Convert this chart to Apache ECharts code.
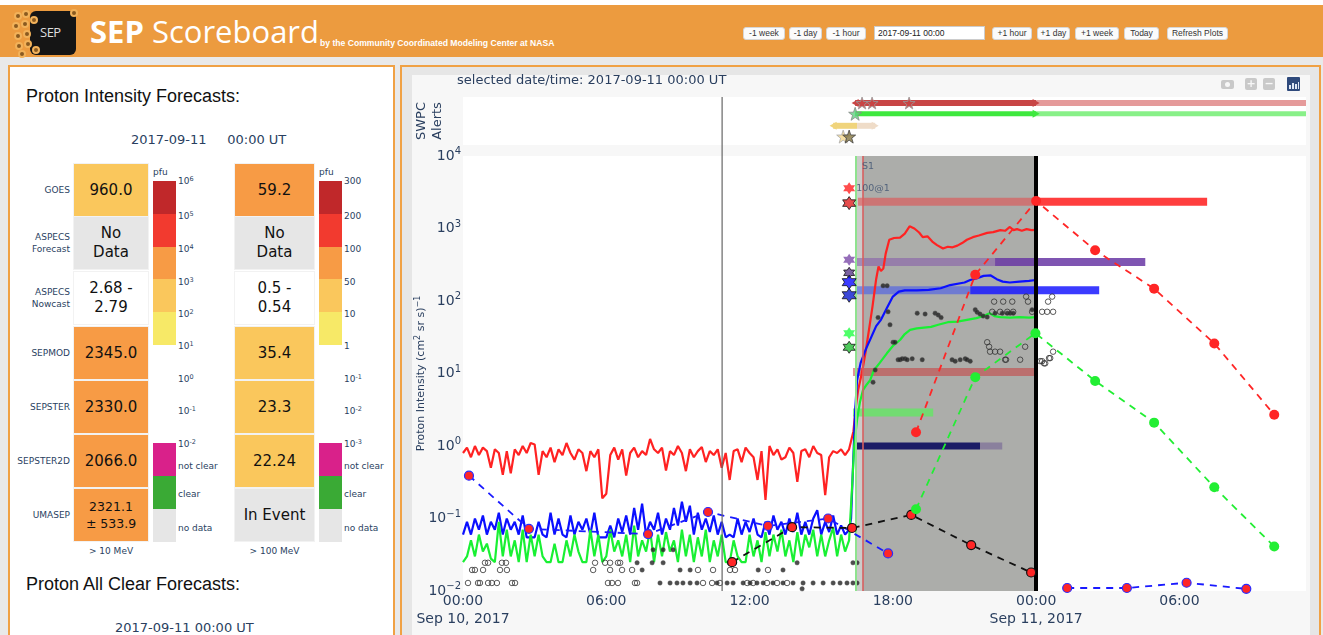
<!DOCTYPE html>
<html>
<head>
<meta charset="utf-8">
<script src="https://cdn.jsdelivr.net/npm/echarts@6.0.0/dist/echarts.min.js"></script>
<style>
*{box-sizing:border-box}
html,body{margin:0;padding:0}
body{width:1323px;height:635px;overflow:hidden;position:relative;background:#e9e9e9;font-family:"DejaVu Sans",sans-serif;}
.abs{position:absolute}
#topstrip{left:0;top:0;width:1323px;height:5px;background:#fff}
#header{left:0;top:5px;width:1323px;height:52px;background:#ec9b3f}
#title{left:90px;top:12px;color:#fff;font-family:"Open Sans",sans-serif;font-size:31px;line-height:38px;white-space:nowrap}
#title b{font-weight:700}
#byline{left:320px;top:38px;color:#fff;font-family:"Liberation Sans",Arial,sans-serif;font-weight:bold;font-size:8.6px;white-space:nowrap}
.btn{top:27px;height:13px;background:#fbfbfb;border:1px solid #d6d6d6;border-radius:3px;font-family:"Liberation Sans",Arial,sans-serif;font-size:8.5px;line-height:11px;text-align:center;color:#333;white-space:nowrap}
#leftpanel{left:8px;top:65px;width:387px;height:600px;border:2px solid #f0a144;background:#fff}
#rightpanel{left:400px;top:65px;width:921px;height:600px;border:2px solid #f0a144;background:#e6e6e6}
#paper{left:412px;top:75px;width:898px;height:560px;background:#f7f7f7}
#chart{left:400px;top:65px;width:923px;height:570px}
.h2{font-family:"Liberation Sans",Arial,sans-serif;font-size:18px;color:#111;white-space:nowrap}
.navy{color:#2a3f5f}
.rowlab{font-size:9px;line-height:12px;color:#2a3f5f;text-align:right;width:64px;left:6px}
.cell{display:flex;align-items:center;justify-content:center;text-align:center;font-size:15px;line-height:19px;color:#111;border:1px solid #f2f2f2}
.cbl{font-size:9px;color:#2a3f5f;white-space:nowrap;line-height:10px}
.cbl sup{font-size:6.5px;vertical-align:top;position:relative;top:-2px}
.icon{background:#c9c9c9;border-radius:2px}
</style>
</head>
<body>
<div id="topstrip" class="abs"></div>
<div id="header" class="abs"></div>
<div id="logo" class="abs" style="left:10px;top:8px;width:68px;height:48px;"></div>
<div id="title" class="abs"><b>SEP</b> Scoreboard</div>
<div id="byline" class="abs">by the Community Coordinated Modeling Center at NASA</div>
<div id="buttons"></div>
<div id="leftpanel" class="abs"></div>
<div id="rightpanel" class="abs"></div>
<div id="paper" class="abs"></div>
<div id="left"></div>
<div id="chart" class="abs"></div>
<div id="modebar"></div>
<script>
// ===================== DATA =====================
// time axis: hours since 2017-09-10 00:00 UT
const xTickDays = ['Sep 10, 2017', 'Sep 11, 2017'];
const selectedTime = '2017-09-11 00:00 UT';

// GOES integral proton flux, quiet period, 10-min cadence starting 00:00
const quietStepHours = 1 / 6;
const gt10Quiet = [
 0.8,0.95,0.7,1.0,0.75,0.95,0.85,0.5,0.9,0.8,
 0.4,0.85,0.42,0.9,0.75,1.0,0.8,1.1,1.05,0.4,
 0.85,0.7,0.95,0.6,0.9,0.75,1.1,0.8,0.65,0.9,
 0.8,0.45,0.85,0.7,0.9,0.19,0.22,0.75,0.95,0.65,
 0.9,0.39,0.8,0.95,0.7,0.85,0.75,1.25,0.9,0.8,
 0.95,0.46,0.85,0.75,1.0,0.8,0.45,0.9,0.7,0.85,
 0.97,0.6,0.85,0.75,0.9,0.5,0.8,0.34,0.85,0.9,
 0.6,0.95,0.8,0.7,0.34,0.85,0.18,1.0,0.75,0.9,
 0.65,0.7,0.95,0.8,0.32,0.85,0.9,0.7,1.0,0.8,
 0.75,0.21,0.7,0.85,0.8,0.9,0.75,0.9];
const gt50Quiet = [
 0.06,0.09,0.06,0.1,0.07,0.11,0.06,0.09,0.07,0.12,
 0.06,0.1,0.07,0.09,0.06,0.11,0.055,0.055,0.055,0.09,
 0.06,0.055,0.12,0.06,0.1,0.06,0.055,0.11,0.06,0.09,
 0.07,0.1,0.06,0.12,0.055,0.055,0.055,0.08,0.055,0.1,
 0.065,0.11,0.06,0.14,0.07,0.16,0.06,0.09,0.07,0.12,
 0.06,0.1,0.07,0.14,0.08,0.17,0.09,0.15,0.06,0.12,
 0.07,0.1,0.065,0.11,0.06,0.09,0.055,0.06,0.055,0.1,
 0.06,0.09,0.065,0.1,0.06,0.055,0.09,0.06,0.11,0.07,
 0.09,0.06,0.1,0.065,0.12,0.06,0.09,0.06,0.1,0.13,
 0.06,0.09,0.065,0.11,0.06,0.08,0.06,0.07];
const gt100Quiet = [
 0.025,0.03,0.05,0.03,0.06,0.035,0.045,0.028,0.025,0.09,
 0.03,0.07,0.03,0.05,0.025,0.07,0.025,0.06,0.03,0.06,
 0.03,0.025,0.025,0.045,0.025,0.025,0.05,0.03,0.06,0.035,
 0.025,0.025,0.07,0.03,0.06,0.025,0.03,0.07,0.035,0.05,
 0.03,0.06,0.025,0.08,0.03,0.05,0.035,0.07,0.025,0.06,
 0.03,0.065,0.035,0.05,0.025,0.07,0.03,0.06,0.025,0.055,
 0.03,0.07,0.025,0.05,0.03,0.06,0.025,0.025,0.05,0.03,
 0.025,0.025,0.06,0.03,0.05,0.025,0.065,0.03,0.06,0.035,
 0.07,0.03,0.05,0.025,0.065,0.03,0.06,0.04,0.07,0.03,
 0.06,0.03,0.05,0.075,0.03,0.06,0.035,0.05];
// event onset and rise [hour, pfu]
const gt10Event = [[16.25,0.95],[16.35,1.6],[16.45,3.5],[16.55,6],[16.7,10],[16.85,19],[17.0,40],[17.15,85],[17.3,200],[17.4,300],[17.5,260],[17.6,280],[17.7,450],[17.85,700],[18.05,740],[18.3,750],[18.5,850],[18.7,1070],[18.9,1000],[19.1,880],[19.25,760],[19.45,780],[19.65,660],[19.85,590],[20.1,530],[20.3,560],[20.5,550],[20.7,580],[20.9,630],[21.1,700],[21.35,760],[21.6,800],[21.95,870],[22.2,890],[22.5,950],[22.7,930],[22.9,1050],[23.05,950],[23.2,980],[23.4,930],[23.6,980],[23.8,950],[24.0,960]];
const gt50Event = [[16.25,0.1],[16.33,0.5],[16.42,3],[16.5,8],[16.65,14],[16.88,22],[17.1,32],[17.3,45],[17.5,55],[17.75,80],[18.0,115],[18.25,135],[18.5,140],[19.0,140],[19.5,142],[20.0,150],[20.4,166],[21.0,180],[21.24,195],[21.5,205],[21.8,222],[22.1,225],[22.35,200],[22.6,185],[22.9,180],[23.3,185],[23.7,190],[24.0,195]];
const gt100Event = [[16.25,0.05],[16.3,0.3],[16.38,1.0],[16.5,2.3],[16.62,4],[16.75,5.9],[16.9,7],[17.05,8.1],[17.2,11],[17.45,14],[17.75,19],[18.0,24],[18.3,29],[18.5,35],[18.72,40],[19.0,42],[19.3,43],[19.6,44],[19.9,47],[20.3,51],[20.7,52],[21.1,55],[21.5,58],[21.8,62],[22.05,68],[22.25,62],[22.5,60],[22.9,59],[23.3,60],[23.7,59],[24.0,60]];

// model forecast time series [hour, pfu] (null = below range)
const umasepGt10Fc = [[18.97,1.55],[21.45,230],[24.0,2400],[26.47,500],[28.94,148],[31.46,26],[33.97,2.7]];
const umasepGt100Fc = [[18.97,0.134],[21.45,8.9],[23.97,36],[26.47,7.9],[28.94,2.1],[31.46,0.27],[33.97,0.041]];
const modelBlueFc = [[0.25,0.39],[2.76,0.072],[7.75,0.061],[10.26,0.123],[12.77,0.079],[15.29,0.1],[17.8,0.033],[20.3,null],[22.8,null],[25.3,0.011],[27.8,0.011],[30.3,0.013],[32.8,0.0107]];
const modelBlackFc = [[11.27,0.025],[13.78,0.076],[16.29,0.074],[18.77,0.112],[21.28,0.043],[23.79,0.018]];

// peak-flux forecast bars: [start hour, mid hour, end hour, pfu]
const barSepmod10 = [16.54, 24.0, 31.16, 2345];
const barPurple = [16.46, 22.28, 28.57, 345];
const barBlue = [16.46, 21.24, 26.64, 141];
const barDarkRed = [16.33, 24.0, 24.0, 10.5];
const barGreen = [16.33, 19.69, 19.69, 2.9];
const barNavy = [16.33, 21.65, 22.58, 1.0];

// threshold-crossing stars at forecast issue time
const starHour = 16.17;
const starValues = [3600, 2240, 370, 245, 182, 120, 36, 23];

// instrument / model dots
const filledDots = [[7.96,0.037],[8.38,0.037],[8.8,0.037],[7.29,0.0245],[7.92,0.0245],[8.38,0.0245],[13.99,0.0245],[16.33,0.0245],[16.5,0.0245],[7.5,0.0195],[9.09,0.0195],[9.51,0.0195],[12.36,0.0195],[13.4,0.0195],
 [8.25,0.0129],[8.67,0.0129],[8.96,0.0129],[9.21,0.0129],[9.51,0.0129],[9.8,0.0129],[10.64,0.0129],[11.06,0.0129],[11.31,0.0129],[11.73,0.0129],[12.02,0.0129],[12.31,0.0129],[12.57,0.0129],[12.98,0.0129],[13.4,0.0129],[13.82,0.0129],[14.24,0.0129],[14.66,0.0129],[15.08,0.0129],[15.5,0.0129],[15.79,0.0129],[16.08,0.0129],[16.33,0.0129],[16.5,0.0129],[14.2,0.0107],
 [17.17,7.6],[17.26,11.2],[18.01,27],[18.09,27],[17.88,47],[17.38,59],[17.8,71],[17.59,162],[17.76,162],
 [18.22,15.5],[18.3,15.5],[18.39,16],[18.51,16],[18.6,15.5],[18.81,16],[19.23,15.5],[20.48,15.5],[20.61,14.8],[20.82,15.5],[21.03,16],[21.11,15.5],[21.24,14.8],
 [19.02,68],[19.35,66],[19.77,68],[19.9,64],[20.02,59],[21.45,76],[21.53,70],[21.65,66],[21.78,62],[21.95,60],[22.28,68],[22.58,68],[22.79,68],[22.91,68],[23.04,68],[23.83,76]];
const openDots = [[0.92,0.0245],[1.05,0.0245],[1.63,0.0245],[1.8,0.0245],[5.53,0.0245],[5.95,0.0245],[6.16,0.0245],[6.49,0.0245],[6.58,0.0245],[11.18,0.0245],[11.31,0.0245],
 [0.38,0.0195],[0.5,0.0195],[0.84,0.0195],[1.55,0.0195],[1.84,0.0195],[5.45,0.0195],[6.16,0.0195],[6.66,0.0195],[7.08,0.0195],[9.84,0.0195],[10.47,0.0195],[11.18,0.0195],[11.39,0.0195],[12.77,0.0195],
 [0.21,0.0129],[0.63,0.0129],[0.71,0.0129],[1.05,0.0129],[1.21,0.0129],[1.42,0.0129],[2.05,0.0129],[2.18,0.0129],[6.07,0.0129],[6.24,0.0129],[6.49,0.0129],[7.2,0.0129],[7.29,0.0129],[10.05,0.0129],[10.43,0.0129],[10.76,0.0129],[11.9,0.0129],[12.15,0.0129],[12.73,0.0129],[13.15,0.0129],[13.57,0.0129],
 [22.24,98],[22.62,98],[23.0,98],[23.66,98],[24.5,98],[23.58,115],[24.67,115],[22.16,71],[22.49,71],[22.79,71],[23.04,71],[23.83,71],[24.25,71],[24.46,71],[24.71,71],[21.95,27],[22.03,23.4],[23.54,23.4],[22.07,20],[22.28,20],[22.49,20],[24.71,20],[22.7,15.5],[22.74,15.5],[23.33,15.5],[24.17,14.8],[24.25,14.8],[24.33,13.8],[24.38,13.8],[24.54,16.3],[24.59,16.3]];

// event markers (hours)
const selectedLineHour = 10.85;
const eventStartHour = 16.46;
const thresholdHour = 16.75;
const forecastTimeHour = 24.0;
const s1Label = [16.96, 7240];

// SWPC alerts: [start, mid, end] hours
const alertProton10 = [16.42, 24.0, 35.3];
const alertProton10Stars = [16.71, 17.13, 18.68];
const alertProton100 = [16.42, 24.0, 35.3];
const alertProton100Stars = [16.42];
const alertWarning = [15.5, 16.5, 17.26];
const alertSummaryStars = [15.92, 16.17];

// left panel table
const rowLabels = ['GOES','ASPECS<br>Forecast','ASPECS<br>Nowcast','SEPMOD','SEPSTER','SEPSTER2D','UMASEP'];
const values10 = ['960.0','No<br>Data','2.68 -<br>2.79','2345.0','2330.0','2066.0','2321.1<br>± 533.9'];
const values100 = ['59.2','No<br>Data','0.5 -<br>0.54','35.4','23.3','22.24','In Event'];
const level10 = ['lo','nd','wh','mid','mid','mid','mid'];
const level100 = ['mid','nd','wh','lo','lo','lo','nd'];
const cbLabels10 = ['10<sup>6</sup>','10<sup>5</sup>','10<sup>4</sup>','10<sup>3</sup>','10<sup>2</sup>','10<sup>1</sup>','10<sup>0</sup>','10<sup>-1</sup>','10<sup>-2</sup>'];
const cbLabels100 = ['300','200','100','50','10','1','10<sup>-1</sup>','10<sup>-2</sup>','10<sup>-3</sup>'];
const cbCats = ['not clear','clear','no data'];
const energyLabels = ['> 10 MeV','> 100 MeV'];
const headerButtons = [['-1 week',743,42],['-1 day',789,33],['-1 hour',826,40],['+1 hour',992,40],['+1 day',1037,33],['+1 week',1075,44],['Today',1124,35],['Refresh Plots',1167,61]];

// ===================== HTML PARTS =====================
function el(parent, cls, style, html){const d=document.createElement('div');d.className='abs '+(cls||'');d.style.cssText=style;if(html!==undefined)d.innerHTML=html;parent.appendChild(d);return d;}
// logo
const logo=document.getElementById('logo');
el(logo,'', 'left:20px;top:3px;width:46px;height:44px;background:#151515;border-radius:6px;');
el(logo,'', 'left:30px;top:15px;color:#ddd;font-family:"Open Sans";font-size:13px;letter-spacing:-0.5px;','SEP');
[[4,4],[12,2],[2,14],[11,12],[20,8],[4,24],[13,22],[5,34],[14,32],[22,38],[8,42],[60,1]].forEach(p=>el(logo,'','left:'+p[0]+'px;top:'+p[1]+'px;width:8px;height:8px;border-radius:50%;border:2px solid #f2b25a;background:#8a5a20;'));
// buttons
const bdiv=document.getElementById('buttons');
headerButtons.forEach(b=>el(bdiv,'btn','left:'+b[1]+'px;width:'+b[2]+'px;',b[0]));
el(bdiv,'', 'left:874px;top:26px;width:111px;height:14px;background:#fff;border:1px solid #ccc;font-family:"Liberation Sans",Arial,sans-serif;font-size:8.5px;line-height:12px;padding-left:3px;color:#222;','2017-09-11 00:00');
// left panel
const L=document.getElementById('left');
el(L,'h2','left:26px;top:86px;','Proton Intensity Forecasts:');
el(L,'navy','left:131px;top:132px;font-size:13px;white-space:nowrap;','2017-09-11&nbsp;&nbsp;&nbsp;&nbsp;&nbsp;00:00 UT');
const rowTops=[163,216,271,326,380,434,488], rowH=54;
const fills={hi:'#c0282a',red:'#f23a2f',mid:'#f79b45',lo:'#fac75c',yel:'#f7e967',nd:'#e6e6e6',wh:'#ffffff'};
rowLabels.forEach((r,i)=>{
  const lines=r.split('<br>').length;
  el(L,'rowlab','top:'+(rowTops[i]+rowH/2-lines*6)+'px;',r);
  const f1=values10[i].indexOf('±')>=0?'font-size:12.5px;line-height:17px;':'';
  el(L,'cell','left:73px;top:'+rowTops[i]+'px;width:76px;height:'+rowH+'px;background:'+fills[level10[i]]+';'+f1,values10[i]);
  el(L,'cell','left:234px;top:'+rowTops[i]+'px;width:81px;height:'+rowH+'px;background:'+fills[level100[i]]+';',values100[i]);
});
const bandCols=['hi','red','mid','lo','yel'];
const catCols=['#d9218a','#3aaa35','#e6e6e6'];
[[153,cbLabels10],[319,cbLabels100]].forEach(([x,labs])=>{
  el(L,'cbl','left:'+x+'px;top:167px;','pfu');
  bandCols.forEach((c,i)=>el(L,'','left:'+x+'px;top:'+(181+i*32.8)+'px;width:23px;height:33px;background:'+fills[c]+';'));
  const ly=[181,216,249,282,314,346,379,411,444];
  labs.forEach((t,i)=>el(L,'cbl','left:'+(x+25)+'px;top:'+(ly[i]-5)+'px;',t));
  catCols.forEach((c,i)=>el(L,'','left:'+x+'px;top:'+(443+i*33)+'px;width:23px;height:33px;background:'+c+';'));
  [466,494,528].forEach((y,i)=>el(L,'cbl','left:'+(x+25)+'px;top:'+(y-5)+'px;',cbCats[i]));
});
el(L,'cbl','left:73px;top:546px;width:76px;text-align:center;',energyLabels[0]);
el(L,'cbl','left:234px;top:546px;width:81px;text-align:center;',energyLabels[1]);
el(L,'h2','left:26px;top:574px;','Proton All Clear Forecasts:');
el(L,'navy','left:115px;top:620px;font-size:13px;white-space:nowrap;','2017-09-11 00:00 UT');
// modebar
const M=document.getElementById('modebar');
el(M,'icon','left:1221px;top:80px;width:13px;height:9px;border-radius:2px;');
el(M,'','left:1225px;top:82px;width:5px;height:5px;border-radius:50%;background:#f7f7f7;');
el(M,'icon','left:1245px;top:78px;width:12px;height:12px;color:#f7f7f7;font-size:11px;line-height:12px;text-align:center;font-weight:bold;','+');
el(M,'icon','left:1263px;top:78px;width:12px;height:12px;color:#f7f7f7;font-size:11px;line-height:11px;text-align:center;font-weight:bold;','−');
el(M,'','left:1287px;top:77px;width:13px;height:14px;background:#2f4a7c;border-radius:1px;');
[[1289,85,2,4],[1292,83,2,6],[1295,84,2,5],[1298,82,1,7]].forEach(b=>el(M,'','left:'+b[0]+'px;top:'+b[1]+'px;width:'+b[2]+'px;height:'+b[3]+'px;background:#dde6f5;'));

// ===================== CHART =====================
const FONT='DejaVu Sans', TXT='#2a3f5f';
const HEX='path://M0,-10L2.887,-5L8.66,-5L5.774,0L8.66,5L2.887,5L0,10L-2.887,5L-8.66,5L-5.774,0L-8.66,-5L-2.887,-5Z';
const STAR5='path://M0,-10L2.35,-3.24L9.51,-3.09L3.8,1.24L5.88,8.09L0,4L-5.88,8.09L-3.8,1.24L-9.51,-3.09L-2.35,-3.24Z';
const XMAX=35.3;
const chart=echarts.init(document.getElementById('chart'),null,{renderer:'canvas'});
const quietSeries=arr=>arr.map((v,i)=>[i*quietStepHours,v]);
const clean=arr=>arr.map(p=>[p[0],p[1]===null?'-':p[1]]);
const M1={xAxisIndex:1,yAxisIndex:1};
const M0={xAxisIndex:0,yAxisIndex:0};
const base={animation:false,silent:true,emphasis:{disabled:true}};
function bar(name,t0,t1,v,color,width,z){return Object.assign({},base,M1,{name,type:'line',z:z||2,showSymbol:false,data:[[t0,v],[t1,v]],lineStyle:{color,width,cap:'butt'}});}
function alertLine(t0,t1,row,color,width,leftArrow,rightArrow){
  const d=[{value:[t0,row],symbol:leftArrow?'triangle':'none',symbolRotate:90,symbolSize:[8,7]},{value:[t1,row],symbol:rightArrow?'triangle':'none',symbolRotate:-90,symbolSize:[8,7]}];
  return Object.assign({},base,M0,{type:'line',data:d,showSymbol:true,showAllSymbol:true,itemStyle:{color},lineStyle:{color,width,cap:'butt'},z:3});
}
const series=[
  Object.assign({},base,M1,{type:'line',z:0,data:[[0,1]],showSymbol:false,lineStyle:{opacity:0},
    markArea:{silent:true,itemStyle:{color:'rgba(126,128,122,0.4)'},data:[[{xAxis:eventStartHour},{xAxis:forecastTimeHour}],[{xAxis:thresholdHour},{xAxis:forecastTimeHour}]]},
    markLine:{silent:true,symbol:['none','none'],label:{show:false},animation:false,data:[
      {xAxis:eventStartHour,lineStyle:{color:'#8fe38f',width:2,type:'solid'}},
      {xAxis:thresholdHour,lineStyle:{color:'rgba(215,95,95,0.8)',width:2,type:'solid'}},
      {xAxis:forecastTimeHour,lineStyle:{color:'#000',width:4,type:'solid'}}]}}),
  bar('sepmod-a',barSepmod10[0],barSepmod10[1],barSepmod10[3],'rgba(225,80,80,0.6)',8),
  bar('sepmod-b',barSepmod10[1],barSepmod10[2],barSepmod10[3],'rgba(255,35,35,0.88)',8),
  bar('purple-a',barPurple[0],barPurple[1],barPurple[3],'rgba(135,95,170,0.6)',8),
  bar('purple-b',barPurple[1],barPurple[2],barPurple[3],'rgba(105,55,165,0.85)',8),
  bar('blue-a',barBlue[0],barBlue[1],barBlue[3],'rgba(70,90,235,0.6)',8),
  bar('blue-b',barBlue[1],barBlue[2],barBlue[3],'rgba(25,25,255,0.85)',8),
  bar('darkred',barDarkRed[0],barDarkRed[1],barDarkRed[3],'rgba(200,60,60,0.55)',8),
  bar('green',barGreen[0],barGreen[1],barGreen[3],'rgba(95,235,95,0.75)',8),
  bar('navy-a',barNavy[0],barNavy[1],barNavy[3],'#1c1c66',7),
  bar('navy-b',barNavy[1],barNavy[2],barNavy[3],'rgba(120,105,150,0.65)',7),
  Object.assign({},base,M1,{type:'line',z:3,showSymbol:false,data:quietSeries(gt10Quiet).concat(gt10Event),lineStyle:{color:'#ff2222',width:2.2}}),
  Object.assign({},base,M1,{type:'line',z:3,showSymbol:false,data:quietSeries(gt50Quiet).concat(gt50Event),lineStyle:{color:'#0b10ff',width:2.2}}),
  Object.assign({},base,M1,{type:'line',z:3,showSymbol:false,data:quietSeries(gt100Quiet).concat(gt100Event),lineStyle:{color:'#19f033',width:2.2}}),
  Object.assign({},base,M1,{type:'scatter',z:4,symbolSize:4.5,data:filledDots,itemStyle:{color:'#222',borderColor:'#555',borderWidth:0.5}}),
  Object.assign({},base,M1,{type:'scatter',z:4,symbolSize:5.5,data:openDots,itemStyle:{color:'rgba(0,0,0,0)',borderColor:'#333',borderWidth:1}}),
  Object.assign({},base,M1,{type:'line',z:5,data:clean(modelBlueFc),symbol:'circle',symbolSize:9,lineStyle:{color:'#1a1aff',width:1.8,type:[7,6]},itemStyle:{color:'#ff2626',borderColor:'#2a2aff',borderWidth:1.2}}),
  Object.assign({},base,M1,{type:'line',z:5,data:clean(modelBlackFc),symbol:'circle',symbolSize:9,lineStyle:{color:'#111',width:1.8,type:[7,6]},itemStyle:{color:'#ff2626',borderColor:'#111',borderWidth:1.2}}),
  Object.assign({},base,M1,{type:'line',z:5,data:umasepGt10Fc,symbol:'circle',symbolSize:10,lineStyle:{color:'#ff2626',width:1.8,type:[7,6]},itemStyle:{color:'#ff2626'}}),
  Object.assign({},base,M1,{type:'line',z:5,data:umasepGt100Fc,symbol:'circle',symbolSize:10,lineStyle:{color:'#22ee33',width:1.8,type:[7,6]},itemStyle:{color:'#22ee33'}}),
  Object.assign({},base,M1,{type:'scatter',z:6,symbol:HEX,data:[
    {value:[starHour,starValues[0]],symbolSize:12,itemStyle:{color:'#ff2020'},label:{show:true,position:'right',distance:1,formatter:'100@1',color:'#3c5070',fontSize:9.5,fontFamily:FONT}},
    {value:[starHour,starValues[1]],symbolSize:13,itemStyle:{color:'#e02020',borderColor:'#111',borderWidth:1}},
    {value:[starHour,starValues[2]],symbolSize:12,itemStyle:{color:'#7a4aa8'}},
    {value:[starHour,starValues[3]],symbolSize:11,itemStyle:{color:'#5a3a8a',borderColor:'#111',borderWidth:1}},
    {value:[starHour,starValues[4]],symbolSize:14,itemStyle:{color:'#0a0aff',borderColor:'#111',borderWidth:1}},
    {value:[starHour,starValues[5]],symbolSize:14,itemStyle:{color:'#0a1ad0',borderColor:'#111',borderWidth:1}},
    {value:[starHour,starValues[6]],symbolSize:12,itemStyle:{color:'#22ff44'}},
    {value:[starHour,starValues[7]],symbolSize:12,itemStyle:{color:'#22bb33',borderColor:'#111',borderWidth:1}}]}),
  Object.assign({},base,M1,{type:'scatter',z:6,symbolSize:0,data:[s1Label],label:{show:true,position:'inside',formatter:'S1',color:'#3c5070',fontSize:9.5,fontFamily:FONT}}),
  alertLine(alertProton10[0],alertProton10[1],3.5,'#c84545',6,true,true),
  alertLine(alertProton10[1],alertProton10[2],3.5,'#e59a9a',6,false,false),
  alertLine(alertProton100[0],alertProton100[1],2.6,'#3ee83e',5,false,true),
  alertLine(alertProton100[1],alertProton100[2],2.6,'#88f088',5,false,false),
  alertLine(alertWarning[0],alertWarning[1],1.6,'#f0d47c',6,true,false),
  alertLine(alertWarning[1],alertWarning[2],1.6,'#efdcc8',6,false,true),
  Object.assign({},base,M0,{type:'scatter',z:6,symbol:STAR5,symbolSize:12,data:alertProton10Stars.map(t=>[t,3.5]),itemStyle:{color:'#c84545',borderColor:'#999',borderWidth:1}}),
  Object.assign({},base,M0,{type:'scatter',z:6,symbol:STAR5,symbolSize:13,data:alertProton100Stars.map(t=>[t,2.6]),itemStyle:{color:'#5fd07f',borderColor:'#888',borderWidth:1}}),
  Object.assign({},base,M0,{type:'scatter',z:6,symbol:STAR5,symbolSize:13,data:[
    {value:[alertSummaryStars[0],0.7],itemStyle:{color:'#f5d88c',borderColor:'#aaa',borderWidth:1}},
    {value:[alertSummaryStars[1],0.7],itemStyle:{color:'#857540',borderColor:'#444',borderWidth:1}}]})
];
const supRich={b:{fontSize:14,color:TXT,fontFamily:FONT},s:{fontSize:10,color:TXT,fontFamily:FONT,padding:[0,0,9,0]}};
const option={
  animation:false,
  backgroundColor:'transparent',
  title:{text:'selected date/time: '+selectedTime,left:57,top:9,padding:0,textStyle:{color:TXT,fontSize:13,fontWeight:'normal',fontFamily:FONT}},
  grid:[
    {left:63,top:32,width:843,height:48,show:true,backgroundColor:'#fff',borderWidth:0,outerBoundsMode:'none'},
    {left:63,top:91,width:843,height:435,show:true,backgroundColor:'#fff',borderWidth:0,outerBoundsMode:'none'}
  ],
  xAxis:[
    {gridIndex:0,type:'value',min:0,max:XMAX,show:false,splitLine:{show:false}},
    {gridIndex:1,type:'value',min:0,max:XMAX,interval:6,axisLine:{show:false},axisTick:{show:false},splitLine:{show:false},
     axisLabel:{showMaxLabel:false,margin:1,color:TXT,fontSize:14,fontFamily:FONT,lineHeight:18,
       formatter:v=>{if(Math.abs(v-Math.round(v))>1e-6)return '';const h=Math.round(v)%24;const s=(h<10?'0':'')+h+':00';return h===0?s+'\n'+xTickDays[Math.round(v)/24]:s;}}}
  ],
  yAxis:[
    {gridIndex:0,type:'value',min:0,max:4,axisLine:{show:false},axisTick:{show:false},axisLabel:{show:false},splitLine:{show:false},
     name:'SWPC\nAlerts',nameLocation:'middle',nameGap:17,nameRotate:90,nameMoveOverlap:false,nameTextStyle:{color:TXT,fontSize:13,fontFamily:FONT,lineHeight:16}},
    {gridIndex:1,type:'log',logBase:10,min:0.01,max:10000,splitNumber:6,axisLine:{show:false},axisTick:{show:false},splitLine:{show:false},
     axisLabel:{margin:2,formatter:v=>{const e=Math.round(Math.log10(v));return '{b|10}{s|'+(e<0?'−'+(-e):e)+'}';},rich:supRich},
     name:'Proton Intensity (cm{s|2} sr s){s|−1}',nameLocation:'middle',nameGap:34,nameRotate:90,nameMoveOverlap:false,
     nameTextStyle:{color:TXT,fontSize:11,fontFamily:FONT,rich:{s:{fontSize:8,color:TXT,fontFamily:FONT,padding:[0,0,7,0]}}}}
  ],
  series
};
chart.setOption(option);
const xSel=chart.convertToPixel({xAxisIndex:1},selectedLineHour);
const yTop=chart.convertToPixel({yAxisIndex:0},4);
const yBot=chart.convertToPixel({yAxisIndex:1},0.01);
chart.setOption({graphic:[{type:'line',silent:true,z:10,shape:{x1:xSel,y1:yTop,x2:xSel,y2:yBot},style:{stroke:'#666',lineWidth:1.2}}]});
</script>
</body>
</html>
